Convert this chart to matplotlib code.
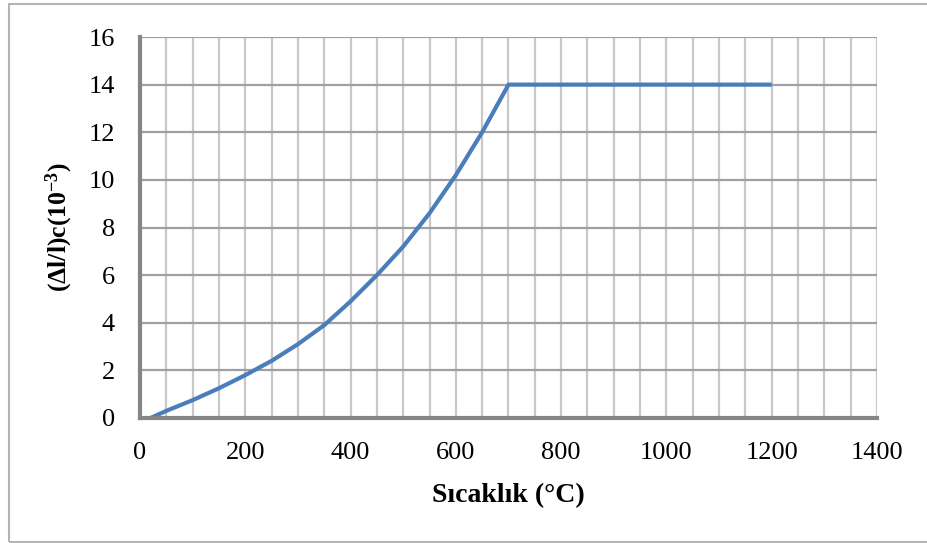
import matplotlib
matplotlib.use('Agg')
import matplotlib.pyplot as plt
from matplotlib.patches import Rectangle

# Değerler
sicaklik = [20, 50, 100, 150, 200, 250, 300, 350, 400, 450, 500, 550, 600, 650, 700, 800, 900, 1000, 1100, 1200]
uzama = [0.0, 0.3, 0.75, 1.25, 1.8, 2.4, 3.1, 3.9, 4.9, 6.0, 7.2, 8.6, 10.2, 12.0, 14.0, 14.0, 14.0, 14.0, 14.0, 14.0]

x_ticks = [0, 200, 400, 600, 800, 1000, 1200, 1400]
y_ticks = [0, 2, 4, 6, 8, 10, 12, 14, 16]

plt.rcParams['font.family'] = ['Liberation Serif', 'DejaVu Serif']
plt.rcParams['mathtext.default'] = 'regular'

fig = plt.figure(figsize=(9.27, 5.43), dpi=100)
ax = fig.add_axes([140 / 927, 125 / 543, 737 / 927, 381 / 543])

# Izgara
for xv in range(50, 1401, 50):
    ax.axvline(xv, color='#c8c8c8', lw=1.6, zorder=1)
for yv in y_ticks[1:]:
    ax.axhline(yv, color='#a0a0a0', lw=1.6, zorder=1)

ax.plot(sicaklik, uzama, color='#4a7ebb', lw=3.0, solid_capstyle='butt', zorder=3)

ax.set_xlim(0, 1400)
ax.set_ylim(0, 16)
ax.set_xticks(x_ticks)
ax.set_yticks(y_ticks)
ax.tick_params(length=0, labelsize=19)
ax.tick_params(axis='x', pad=17)
ax.tick_params(axis='y', pad=18)

for s in ['top', 'right']:
    ax.spines[s].set_visible(False)
for s in ['left', 'bottom']:
    ax.spines[s].set_color('#868686')
    ax.spines[s].set_linewidth(3)
    ax.spines[s].set_zorder(4)

ax.set_xlabel('Sıcaklık (°C)', fontsize=20, fontweight='bold', labelpad=14)
ax.set_ylabel('(Δl/l)c(10$^{-3}$)', fontsize=18.5, fontweight='bold', labelpad=10)

# Dış çerçeve
fig.patches.append(Rectangle((9 / 927, 1 / 543), 930 / 927, 538 / 543, transform=fig.transFigure,
                             fill=False, edgecolor='#b4b4b4', lw=1.5))

plt.savefig('out.png', dpi=100)
